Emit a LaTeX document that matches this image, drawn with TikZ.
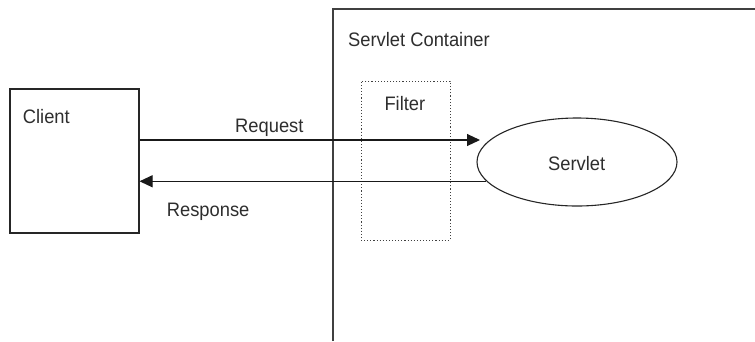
\documentclass[tikz,border=0pt]{standalone}
\usepackage{fontspec}
\setmainfont{Liberation Sans}
\newfontfamily\diagfont[FakeStretch=0.94]{Liberation Sans}
\usetikzlibrary{arrows.meta,shapes.geometric}
\begin{document}
\begin{tikzpicture}[x=1pt,y=-1pt,
  txt/.style={inner sep=0pt,anchor=base west,text=black!82,font=\diagfont\fontsize{19.5}{23}\selectfont},
  boxline/.style={draw=black!85,line width=1.1pt},
  arr/.style={draw=black!90,line width=1.1pt,-{Triangle[length=13pt,width=12pt]}},
  filterbox/.style={draw=black!75,line width=0.9pt,dash pattern=on 1.1pt off 2pt,inner sep=0pt},
]
\useasboundingbox[fill=white] (0,0) rectangle (755,341);
% container
\coordinate (cbl) at (333,341);
\coordinate (ctl) at (333,9);
\coordinate (ctr) at (755,9);
\draw[draw=black!75,line width=1.5pt] (cbl) -- (ctl) -- (ctr);
\node[txt] (contlabel) at (348,46) {Servlet Container};
% client
\node[boxline,inner sep=0pt,minimum width=129pt,minimum height=144pt] (client) at (74.5,161) {};
\node[txt] (clientlabel) at (22.7,123.3) {Client};
% filter
\node[filterbox,minimum width=89pt,minimum height=159pt] (filter) at (405.5,160.5) {};
\node[txt] (filterlabel) at (384.3,110.7) {Filter};
% servlet
\node[boxline,ellipse,inner sep=0pt,minimum width=200pt,minimum height=88pt] (servlet) at (577,162) {};
\node[txt] (servletlabel) at (548,170.7) {Servlet};
% arrows
\coordinate (reqtip) at (480,140);
\draw[arr] (client.east |- reqtip) -- (reqtip);
\draw[arr] (servlet.192) -- (client.east |- servlet.192);
\node[txt] (reqlabel) at (235,132.3) {Request};
\node[txt] (resplabel) at (166.7,216.7) {Response};
\end{tikzpicture}
\end{document}
